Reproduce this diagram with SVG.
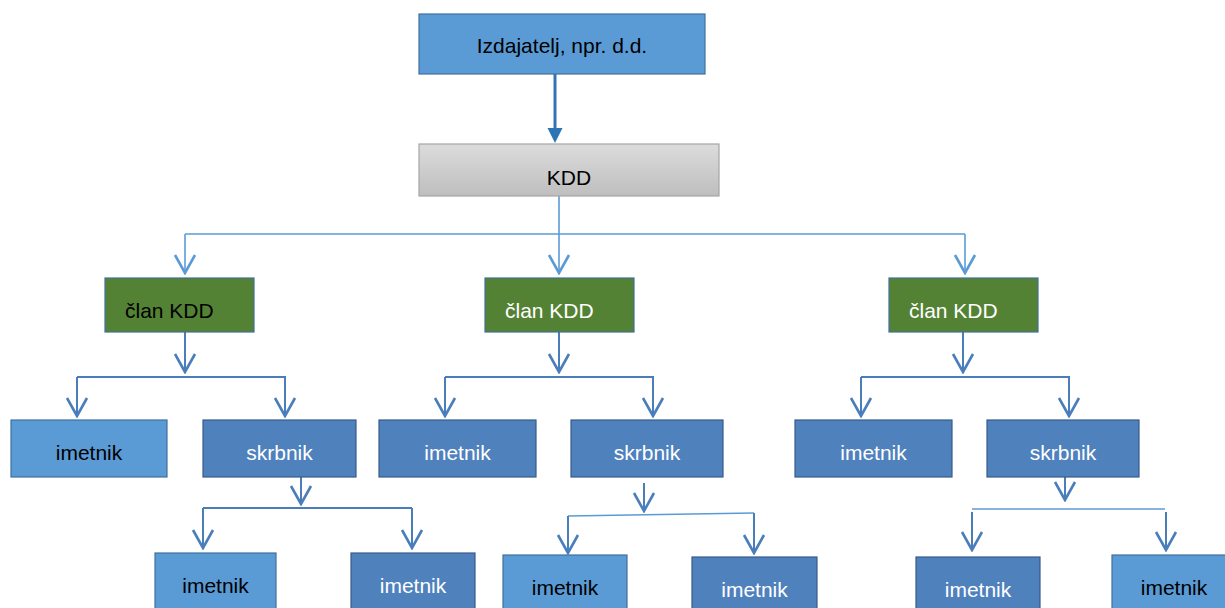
<svg xmlns="http://www.w3.org/2000/svg" width="1225" height="608" viewBox="0 0 1225 608">
<style>
text{font-family:"Liberation Sans",Arial,sans-serif;font-size:21px}
.lt{fill:#5B9BD5;stroke:#41719C;stroke-width:1.2}
.dk{fill:#4F81BD;stroke:#385D8A;stroke-width:1.2}
.gr{fill:#548235;stroke:#41719C;stroke-width:1.2}
.b{fill:#000}
.w{fill:#fff}
.c{fill:none;stroke:#4A7EBB;stroke-width:2}
.cl{fill:none;stroke:#5B9BD5;stroke-width:1.6}
.a{marker-end:url(#v)}
.al{marker-end:url(#vl)}
</style>
<defs>
<linearGradient id="g" x1="0" y1="0" x2="0" y2="1">
<stop offset="0" stop-color="#DCDCDC"/>
<stop offset="1" stop-color="#BEBEBE"/>
</linearGradient>
<marker id="v" markerUnits="userSpaceOnUse" viewBox="-20 -12 22 24" refX="0" refY="0" markerWidth="22" markerHeight="24" orient="auto">
<path d="M-18,-10 L0,0 L-18,10" fill="none" stroke="#4A7EBB" stroke-width="2.6"/>
</marker>
<marker id="vl" markerUnits="userSpaceOnUse" viewBox="-20 -12 22 24" refX="0" refY="0" markerWidth="22" markerHeight="24" orient="auto">
<path d="M-18,-10 L0,0 L-18,10" fill="none" stroke="#5B9BD5" stroke-width="2.6"/>
</marker>
</defs>

<g id="connectors">
<line x1="555" y1="74" x2="555" y2="129" stroke="#2E75B6" stroke-width="3"/>
<polygon points="547.5,128 562.5,128 555,143" fill="#2E75B6"/>
<path class="cl" d="M559,196 V234 M185,234 H965"/>
<path class="cl al" d="M185,234 V273"/>
<path class="cl al" d="M559,234 V273"/>
<path class="cl al" d="M965,234 V273"/>

<path class="c a" d="M185,332 V372"/>
<path class="c" d="M77,377 H286"/>
<path class="c a" d="M77,377 V416"/>
<path class="c a" d="M285,377 V416"/>

<path class="c a" d="M559,332 V372"/>
<path class="c" d="M445,377 H654"/>
<path class="c a" d="M445,377 V416"/>
<path class="c a" d="M653,377 V416"/>

<path class="c a" d="M963,332 V372"/>
<path class="c" d="M861,377 H1070"/>
<path class="c a" d="M861,377 V416"/>
<path class="c a" d="M1069,377 V416"/>

<path class="c a" d="M301,477 V504"/>
<path class="c" d="M203,508 H412"/>
<path class="c a" d="M203,508 V548"/>
<path class="c a" d="M412,508 V548"/>

<path class="c a" d="M644,483 V511"/>
<path class="cl" d="M568,516 L754,513"/>
<path class="c a" d="M568,516 V553"/>
<path class="c a" d="M754,513 V553"/>

<path class="c a" d="M1065,477 V500"/>
<path class="cl" d="M972,509 H1165"/>
<path class="c a" d="M972,512 V550"/>
<path class="c a" d="M1166,512 V550"/>
</g>

<g id="izdajatelj">
<rect class="lt" x="419" y="14" width="286" height="60"/>
<text class="b" x="562" y="53" text-anchor="middle">Izdajatelj, npr. d.d.</text>
</g>
<g id="kdd">
<rect x="419" y="144" width="300" height="52" fill="url(#g)" stroke="#A6A6A6" stroke-width="1.2"/>
<text class="b" x="569" y="185" text-anchor="middle">KDD</text>
</g>

<g id="clan1">
<rect class="gr" x="105" y="278" width="149" height="54"/>
<text class="b" x="125" y="318">član KDD</text>
</g>
<g id="clan2">
<rect class="gr" x="485" y="278" width="149" height="54"/>
<text class="w" x="505" y="318">član KDD</text>
</g>
<g id="clan3">
<rect class="gr" x="889" y="278" width="149" height="54"/>
<text class="w" x="909" y="318">član KDD</text>
</g>

<g id="imetnik1">
<rect class="lt" x="11" y="420" width="156" height="57"/>
<text class="b" x="89" y="460" text-anchor="middle">imetnik</text>
</g>
<g id="skrbnik1">
<rect class="dk" x="203" y="420" width="153" height="57"/>
<text class="w" x="279.5" y="460" text-anchor="middle">skrbnik</text>
</g>
<g id="imetnik2">
<rect class="dk" x="379" y="420" width="157" height="57"/>
<text class="w" x="457.5" y="460" text-anchor="middle">imetnik</text>
</g>
<g id="skrbnik2">
<rect class="dk" x="571" y="420" width="152" height="57"/>
<text class="w" x="647" y="460" text-anchor="middle">skrbnik</text>
</g>
<g id="imetnik3">
<rect class="dk" x="795" y="420" width="157" height="57"/>
<text class="w" x="873.5" y="460" text-anchor="middle">imetnik</text>
</g>
<g id="skrbnik3">
<rect class="dk" x="987" y="420" width="152" height="57"/>
<text class="w" x="1063" y="460" text-anchor="middle">skrbnik</text>
</g>

<g id="imetnik4">
<rect class="lt" x="155" y="553" width="121" height="70"/>
<text class="b" x="215.5" y="593" text-anchor="middle">imetnik</text>
</g>
<g id="imetnik5">
<rect class="dk" x="351" y="553" width="124" height="70"/>
<text class="w" x="413" y="593" text-anchor="middle">imetnik</text>
</g>
<g id="imetnik6">
<rect class="lt" x="503" y="555" width="124" height="70"/>
<text class="b" x="565" y="595" text-anchor="middle">imetnik</text>
</g>
<g id="imetnik7">
<rect class="dk" x="692" y="557" width="125" height="70"/>
<text class="w" x="754.5" y="597" text-anchor="middle">imetnik</text>
</g>
<g id="imetnik8">
<rect class="dk" x="916" y="557" width="124" height="70"/>
<text class="w" x="978" y="597" text-anchor="middle">imetnik</text>
</g>
<g id="imetnik9">
<rect class="lt" x="1112" y="555" width="124" height="70"/>
<text class="b" x="1174" y="595" text-anchor="middle">imetnik</text>
</g>
</svg>
